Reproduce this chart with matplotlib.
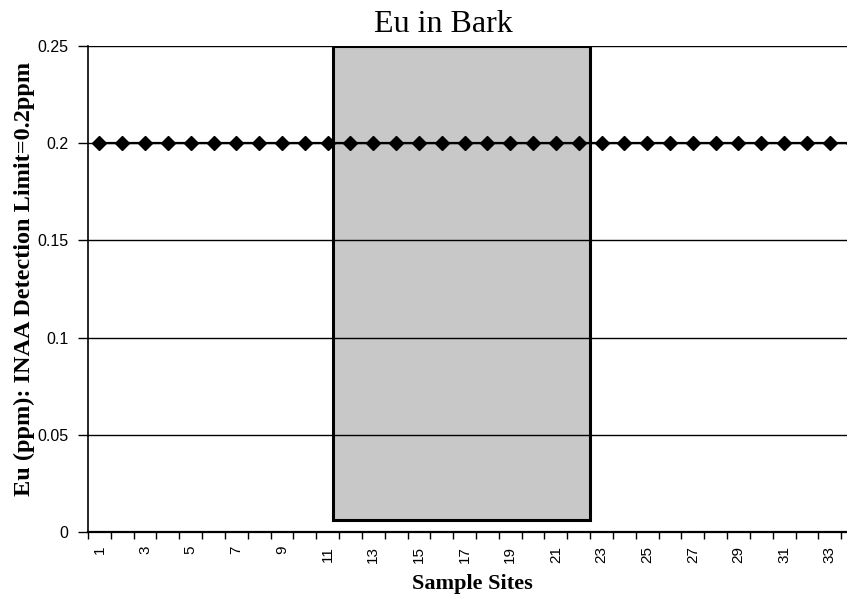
import numpy as np
import matplotlib.pyplot as plt
from matplotlib.patches import Rectangle
from matplotlib.ticker import FixedLocator, NullFormatter

plt.rcParams['font.family'] = 'Liberation Sans'

# data
sites = list(range(1, 35))
eu_ppm = [0.2] * len(sites)
y_ticks = [0, 0.05, 0.1, 0.15, 0.2, 0.25]
y_tick_labels = ['0', '0.05', '0.1', '0.15', '0.2', '0.25']
x_tick_sites = list(range(1, 35, 2))
shade_sites = (11.25, 22.5)
shade_range = (0.006, 0.25)

fig = plt.figure(figsize=(8.47, 5.96), dpi=100)
ax = fig.add_axes([88 / 847, 1 - 532 / 596, 776 / 847, 486 / 596])

# shaded block over sites 12-22
ax.add_patch(Rectangle((shade_sites[0], shade_range[0]),
                       shade_sites[1] - shade_sites[0],
                       shade_range[1] - shade_range[0],
                       facecolor='#c8c8c8', edgecolor='black',
                       linewidth=2.2, zorder=1))

for yv in y_ticks[1:]:
    ax.axhline(yv, color='black', linewidth=1.0, zorder=2)

ax.plot(sites, eu_ppm, color='black', linewidth=1.6, marker='D',
        markersize=7, markerfacecolor='black', markeredgecolor='black',
        zorder=4, clip_on=False)

ax.set_xlim(0.5, len(sites) + 0.5)
ax.set_ylim(0, 0.25)

ax.set_yticks(y_ticks)
ax.set_yticklabels(y_tick_labels)
ax.set_xticks(x_tick_sites)
ax.set_xticklabels([str(s) for s in x_tick_sites], rotation=90)
ax.xaxis.set_minor_locator(FixedLocator(np.arange(0.5, len(sites) + 1, 1)))
ax.xaxis.set_minor_formatter(NullFormatter())
ax.tick_params(axis='x', which='major', length=0, pad=10, labelsize=11)
ax.tick_params(axis='x', which='minor', length=5, width=1.0, direction='out')
ax.tick_params(axis='y', length=7, width=1.0, direction='out', pad=7, labelsize=11.5)

for side in ['top', 'right']:
    ax.spines[side].set_visible(False)
ax.spines['left'].set_linewidth(1.2)
ax.spines['bottom'].set_linewidth(1.6)

fig.text(443 / 847, 1 - 24 / 596, 'Eu in Bark', family='Liberation Serif',
         fontsize=23, ha='center', va='center')
fig.text(24 / 847, 1 - 279 / 596, 'Eu (ppm): INAA Detection Limit=0.2ppm',
         family='Liberation Serif', fontweight='bold', fontsize=17.5,
         rotation=90, ha='center', va='center')
fig.text(472 / 847, 1 - 584 / 596, 'Sample Sites', family='Liberation Serif',
         fontweight='bold', fontsize=16, ha='center', va='center')

fig.savefig('out.png', dpi=100)
